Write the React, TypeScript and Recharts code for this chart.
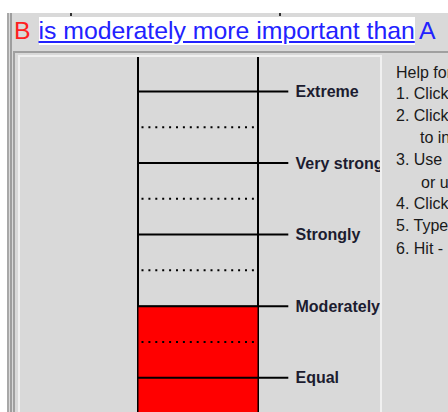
import React from 'react';
import { BarChart, Bar, XAxis, YAxis, ReferenceLine } from 'recharts';

const categories = ['B'];
const judgmentValues = [3];
const levelValues = [1, 3, 5, 7, 9];
const levelLabels = ['Equal', 'Moderately', 'Strongly', 'Very strong', 'Extreme'];
const intermediateValues = [2, 4, 6, 8];
const helpLines = ['Help for', '1. Click', '2. Click', 'to in', '3. Use', 'or u', '4. Click', '5. Type', '6. Hit -'];

const data = categories.map((c, i) => ({ name: c, value: judgmentValues[i] }));

const FONT = '"Liberation Sans", Arial, sans-serif';

const SolidShape = (p: any) => (
  <line x1={p.x1} y1={p.y1} x2={p.x2 + 30.3} y2={p.y2} stroke="#000" strokeWidth={2} />
);
const DottedShape = (p: any) => (
  <line x1={p.x1 + 3.5} y1={p.y1} x2={p.x2 - 1.5} y2={p.y2} stroke="#000" strokeWidth={2} strokeDasharray="2 4.9" />
);

const abs = (s: React.CSSProperties): React.CSSProperties => ({ position: 'absolute', ...s });

export default function App() {
  const helpBaselines = [77, 98, 120, 142, 164, 187, 208, 230, 253];
  const helpX = [396, 396, 396, 420, 396, 421, 396, 396, 396];
  return (
    <div style={abs({ left: 0, top: 0, width: 448, height: 412, overflow: 'hidden', background: '#fff', fontFamily: FONT })}>
      <div style={abs({ left: 7, top: 13, right: 0, bottom: 0, background: '#d9d9d9' })} />
      <div style={abs({ left: 7, top: 13, width: 2, bottom: 0, background: '#a8a8a8' })} />
      <div style={abs({ left: 10, top: 13, width: 2, bottom: 0, background: '#9e9e9e' })} />
      <div style={abs({ left: 13, top: 51, width: 2, bottom: 0, background: '#a0a0a0' })} />
      <div style={abs({ left: 13, top: 51, right: 0, height: 2, background: '#a0a0a0' })} />
      <div style={abs({ left: 70, top: 13, width: 2, height: 3, background: '#333' })} />
      <div style={abs({ left: 279, top: 13, width: 2, height: 3, background: '#333' })} />
      <div style={abs({ left: 14, top: 16.56, fontSize: 24.8, color: '#ff2020', whiteSpace: 'pre' })}>B</div>
      <div style={abs({ left: 38.5, top: 16.56, fontSize: 24.8, color: '#2222ff', background: '#fff', textDecoration: 'underline', whiteSpace: 'pre' })}>
        is moderately more important than
      </div>
      <div style={abs({ left: 419, top: 16.56, fontSize: 24.8, color: '#2222ff', whiteSpace: 'pre' })}>A</div>

      <div style={abs({ left: 18, top: 55, width: 364, height: 357, boxSizing: 'border-box', borderLeft: '2px solid #f0f0f0', borderTop: '2px solid #f0f0f0', borderRight: '2px solid #f0f0f0', background: '#d9d9d9', overflow: 'hidden' })}>
        <div style={abs({ left: -20, top: -57 })}>
          <BarChart
            width={400}
            height={420}
            data={data}
            margin={{ top: 55.7, left: 138, right: 142, bottom: 6.55 }}
            barCategoryGap={0}
            barGap={0}
          >
            <XAxis dataKey="name" hide />
            <YAxis yAxisId="left" domain={[0, 10]} hide />
            <Bar
              dataKey="value"
              yAxisId="left"
              fill="#ff0000"
              stroke="#000"
              strokeWidth={1}
              background={{ fill: 'none', stroke: '#000', strokeWidth: 2 }}
              isAnimationActive={false}
            />
            {intermediateValues.map((v) => (
              <ReferenceLine key={'d' + v} yAxisId="left" y={v} shape={DottedShape} />
            ))}
            {levelValues.map((v, i) => (
              <ReferenceLine
                key={'s' + v}
                yAxisId="left"
                y={v}
                shape={SolidShape}
                label={{ value: levelLabels[i], position: 'right', offset: 37.5, fill: '#1c1c30', fontSize: 16, fontWeight: 'bold', fontFamily: FONT }}
              />
            ))}
          </BarChart>
        </div>
      </div>

      {helpLines.map((t, i) => (
        <div key={i} style={abs({ left: helpX[i], top: helpBaselines[i] - 14.5, fontSize: 16, lineHeight: '20px', color: '#1a1a1a', whiteSpace: 'pre' })}>
          {t}
        </div>
      ))}
    </div>
  );
}
